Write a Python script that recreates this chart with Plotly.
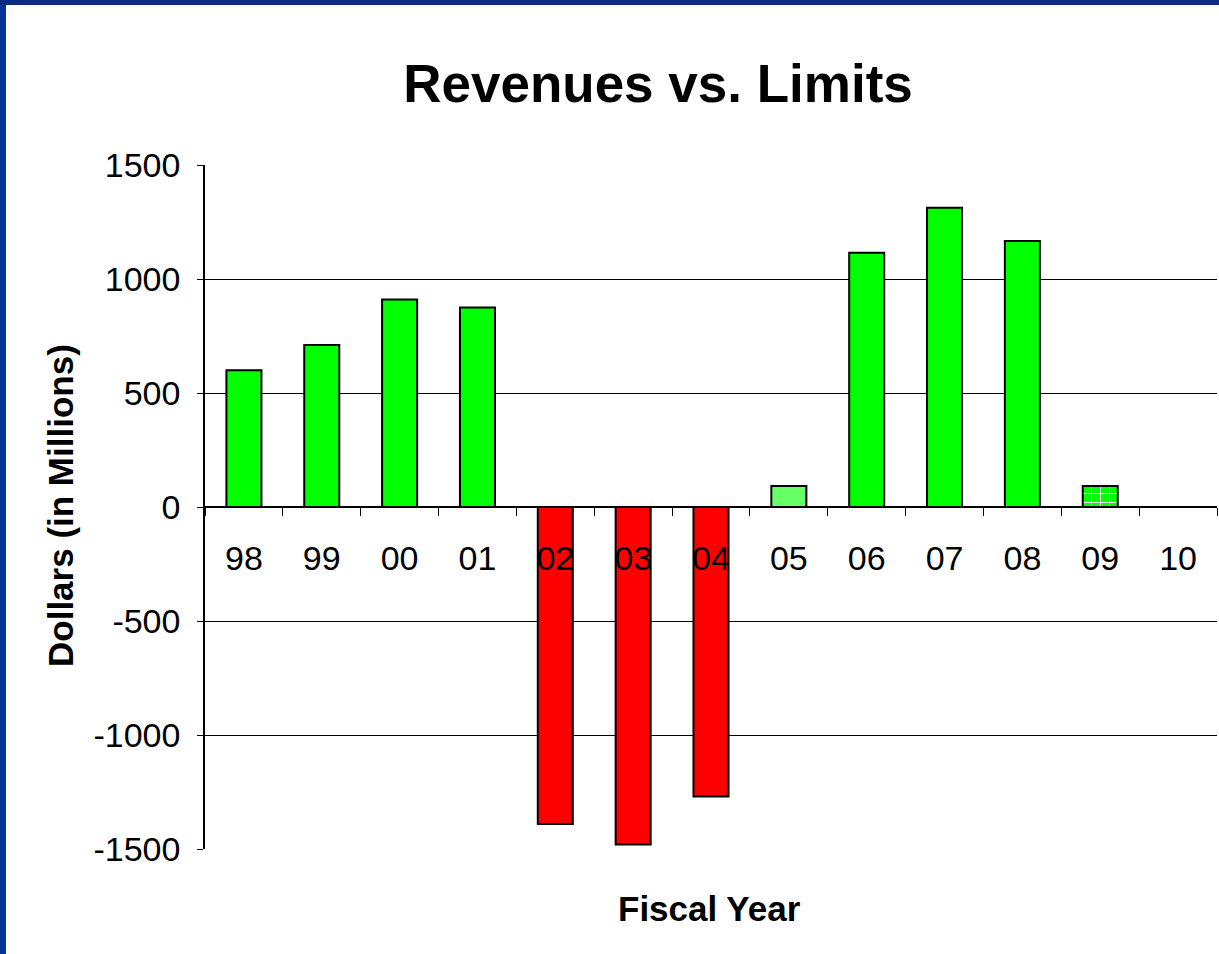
import plotly.graph_objects as go

years = ["98", "99", "00", "01", "02", "03", "04", "05", "06", "07", "08", "09", "10"]
revenue_vs_limit = [600, 710, 910, 875, -1390, -1480, -1270, 92, 1115, 1312, 1167, 92, 0]
bar_colors = ["#00FF00", "#00FF00", "#00FF00", "#00FF00", "#FF0000", "#FF0000", "#FF0000",
              "#66FF66", "#00FF00", "#00FF00", "#00FF00", "#00FF00", "#00FF00"]
hatched = ["09"]  # estimated year, drawn with a grid fill
y_ticks = [-1500, -1000, -500, 0, 500, 1000, 1500]
y_ticktext = ["-1500", "-1000", "-500", "0", "500", "1000", "1500"]

W, H = 1219, 954
L, R, T, B = 205, 2, 165, 105
pw, ph = W - L - R, H - T - B

FONT = "Arial, Liberation Sans, sans-serif"

def px_x(p):
    return (p - L) / pw

def px_y(p):
    return (H - B - p) / ph

solid_y = [v if yr not in hatched else None for yr, v in zip(years, revenue_vs_limit)]
hatch_y = [v if yr in hatched else None for yr, v in zip(years, revenue_vs_limit)]
hatch_color = bar_colors[years.index(hatched[0])]

fig = go.Figure()
fig.add_trace(go.Bar(
    x=years, y=solid_y,
    marker=dict(color=bar_colors, line=dict(color="black", width=2)),
))
# scalar colour here, so the pattern keeps its own fg/bg colours
fig.add_trace(go.Bar(
    x=years, y=hatch_y,
    marker=dict(color=hatch_color, line=dict(color="black", width=2),
                pattern=dict(shape="+", fillmode="replace", bgcolor=hatch_color,
                             fgcolor="white", fgopacity=1, size=9, solidity=0.2)),
))

fig.update_layout(
    width=W, height=H,
    margin=dict(l=L, r=R, t=T, b=B),
    paper_bgcolor="white", plot_bgcolor="white",
    barmode="overlay", bargap=0.55, showlegend=False,
    font=dict(family=FONT, color="black", size=34),
    title=dict(text="<b>Revenues vs. Limits</b>", font=dict(size=53),
               x=658 / W, xref="container", xanchor="center",
               y=1 - 83 / H, yref="container", yanchor="middle"),
)

fig.update_yaxes(
    range=[-1500, 1500], tickvals=y_ticks, ticktext=y_ticktext,
    showgrid=True, gridcolor="black", gridwidth=1,
    zeroline=True, zerolinecolor="black", zerolinewidth=1.5,
    showline=True, linecolor="black", linewidth=1.5,
    ticks="outside", ticklen=6, tickcolor="black",
    ticklabelstandoff=10, tickfont=dict(size=34),
)
fig.update_xaxes(
    type="category", categoryorder="array", categoryarray=years,
    anchor="free", position=0.5,
    showline=True, linecolor="black", linewidth=1.5,
    ticks="outside", tickson="boundaries", ticklen=8, tickcolor="black",
    ticklabelstandoff=21, tickfont=dict(size=34), showgrid=False,
)

fig.add_annotation(text="<b>Dollars (in Millions)</b>", textangle=-90, showarrow=False,
                   xref="paper", yref="paper", x=px_x(60), y=px_y(506),
                   xanchor="center", yanchor="middle", font=dict(size=35))
fig.add_annotation(text="<b>Fiscal Year</b>", showarrow=False,
                   xref="paper", yref="paper", x=px_x(709), y=px_y(908),
                   xanchor="center", yanchor="middle", font=dict(size=35))

# navy frame on the left and top edges
fig.add_shape(type="rect", xref="paper", yref="paper", layer="above",
              x0=px_x(0), x1=px_x(6), y0=px_y(H), y1=px_y(0),
              fillcolor="#063499", line=dict(width=0))
fig.add_shape(type="rect", xref="paper", yref="paper", layer="above",
              x0=px_x(0), x1=px_x(W), y0=px_y(5), y1=px_y(0),
              fillcolor="#0b2b80", line=dict(width=0))

fig.write_html("out.html", config={"displayModeBar": False},
               post_script="document.body.style.margin='0';")
